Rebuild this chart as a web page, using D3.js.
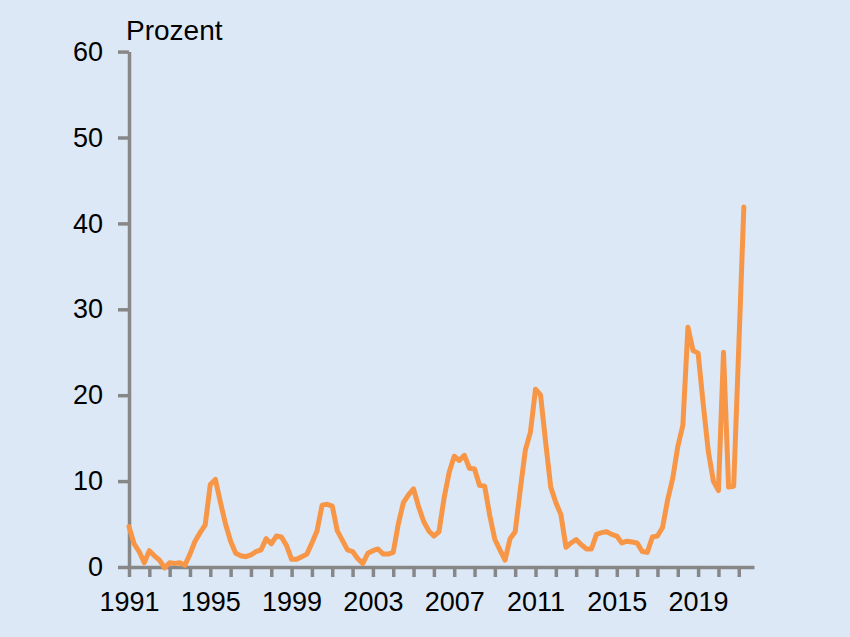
<!DOCTYPE html>
<meta charset="utf-8">
<script src="https://d3js.org/d3.v7.min.js"></script>
<style>
  body { margin: 0; background: #dce8f6; }
  text { font-family: "Liberation Sans", Arial, sans-serif; }
</style>
<div id="chart"></div>
<script>

    // quarterly values, 1991Q1 .. 2021Q2 (Prozent)
    var startYear = 1991;
    var values = [
        4.7, 2.7, 1.8, 0.5, 1.9, 1.3, 0.8, -0.1, 0.5, 0.4,
        0.5, 0.2, 1.5, 3.0, 4.0, 4.9, 9.6, 10.2, 7.5, 5.0,
        3.0, 1.6, 1.3, 1.2, 1.4, 1.8, 2.0, 3.3, 2.7, 3.6,
        3.5, 2.5, 0.9, 0.9, 1.2, 1.5, 2.8, 4.2, 7.2, 7.3,
        7.1, 4.2, 3.1, 2.0, 1.8, 1.0, 0.4, 1.6, 1.9, 2.1,
        1.5, 1.5, 1.7, 5.0, 7.5, 8.4, 9.1, 7.0, 5.3, 4.2,
        3.6, 4.1, 8.0, 11.0, 12.9, 12.4, 13.0, 11.5, 11.4, 9.5,
        9.4, 6.0, 3.2, 2.0, 0.8, 3.3, 4.1, 9.0, 13.6, 15.7,
        20.7, 20.0, 14.5, 9.3, 7.5, 6.1, 2.3, 2.8, 3.2, 2.6,
        2.1, 2.1, 3.8, 4.0, 4.1, 3.8, 3.6, 2.8, 3.0, 2.9,
        2.8, 1.8, 1.7, 3.5, 3.6, 4.6, 7.8, 10.3, 14.0, 16.5,
        27.9, 25.2, 24.9, 19.0, 13.5, 10.0, 8.9, 25.0, 9.3, 9.4,
        25.5, 41.9
    ];
    var data = values.map(function (v, i) { return { t: startYear + i / 4, v: v }; });

    var yTicks = [0, 10, 20, 30, 40, 50, 60];
    var labelYears = [1991, 1995, 1999, 2003, 2007, 2011, 2015, 2019];
    var tickYears = d3.range(1991, 2022);

    var width = 850, height = 637;

    var svg = d3.select("#chart")
        .append("svg")
        .attr("width", width)
        .attr("height", height);

    svg.append("rect")
        .attr("width", width)
        .attr("height", height)
        .attr("fill", "#dce8f6");

    var x = d3.scaleLinear()
        .domain([1991, 2021.75])
        .range([129, 754]);

    var y = d3.scaleLinear()
        .domain([0, 60])
        .range([567, 51.6]);

    // Y axis
    var yAxis = svg.append("g")
        .attr("transform", "translate(129,0)")
        .call(d3.axisLeft(y).tickValues(yTicks).tickSize(11).tickSizeOuter(0).tickPadding(15));

    // X axis
    var xAxis = svg.append("g")
        .attr("transform", "translate(0,567)")
        .call(d3.axisBottom(x).tickValues(tickYears).tickSize(10).tickSizeOuter(0).tickPadding(15)
            .tickFormat(function (d) { return labelYears.indexOf(d) >= 0 ? d : ""; }));

    [yAxis, xAxis].forEach(function (g) {
        g.select(".domain").attr("stroke", "#878787").attr("stroke-width", 3.5);
        g.selectAll(".tick line").attr("stroke", "#878787").attr("stroke-width", 3.5);
        g.selectAll(".tick text")
            .attr("fill", "#000")
            .style("font-size", "27px")
            .style("font-family", "'Liberation Sans', Arial, sans-serif");
    });

    // axis title
    svg.append("text")
        .attr("x", 126)
        .attr("y", 40)
        .attr("fill", "#000")
        .style("font-size", "28px")
        .text("Prozent");

    // line
    svg.append("path")
        .datum(data)
        .attr("fill", "none")
        .attr("stroke", "#f79646")
        .attr("stroke-width", 5)
        .attr("stroke-linejoin", "round")
        .attr("stroke-linecap", "round")
        .attr("d", d3.line()
            .x(function (d) { return x(d.t); })
            .y(function (d) { return y(d.v); })
        );

</script>
